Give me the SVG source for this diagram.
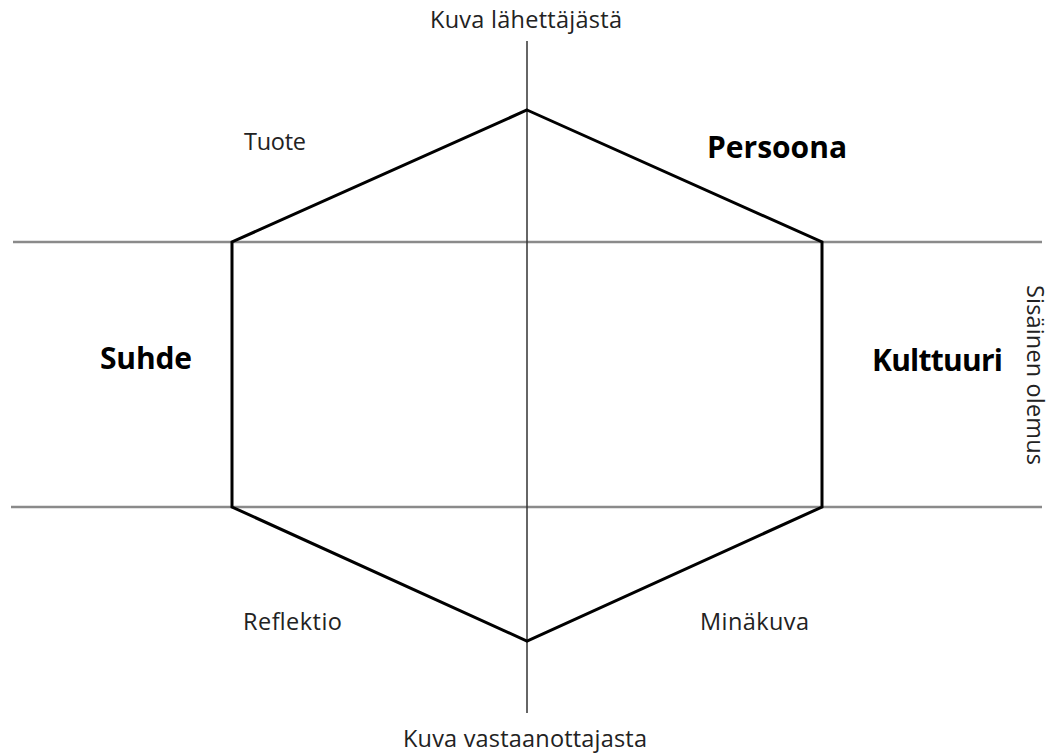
<svg xmlns="http://www.w3.org/2000/svg" width="1052" height="755" viewBox="0 0 1052 755">
<style>
.axis-h{stroke:#8a8a8a;stroke-width:2.5;fill:none}
.axis-v{stroke:#333;stroke-width:1.5;fill:none}
.hex{stroke:#000;stroke-width:3;fill:none;stroke-linejoin:miter}
.lbl{font-family:"Open Sans","Noto Sans","Liberation Sans",sans-serif;font-size:23.5px;fill:#222}
.big{font-family:"Open Sans","Noto Sans","Liberation Sans",sans-serif;font-size:30px;font-weight:bold;fill:#000}
</style>
<rect width="1052" height="755" fill="#fff"/>
<g id="connectors">
<line class="axis-h" x1="13" y1="242" x2="1042" y2="242"/>
<line class="axis-h" x1="11" y1="507" x2="1042" y2="507"/>
<line class="axis-v" x1="527" y1="41" x2="527" y2="713"/>
</g>
<g id="hexagon">
<polygon class="hex" points="527,110 822,242 822,507 527,641 232,507 232,242"/>
</g>
<g id="top"><text class="lbl" x="526" y="28" text-anchor="middle" textLength="192">Kuva lähettäjästä</text></g>
<g id="bottom"><text class="lbl" x="525" y="747" text-anchor="middle" textLength="244">Kuva vastaanottajasta</text></g>
<g id="tuote"><text class="lbl" x="244" y="150" textLength="62">Tuote</text></g>
<g id="persoona"><text class="big" x="707" y="158" textLength="140">Persoona</text></g>
<g id="suhde"><text class="big" x="100" y="369" textLength="92">Suhde</text></g>
<g id="kulttuuri"><text class="big" x="872" y="371" textLength="131">Kulttuuri</text></g>
<g id="reflektio"><text class="lbl" x="243" y="630" textLength="99">Reflektio</text></g>
<g id="minakuva"><text class="lbl" x="700" y="630" textLength="109">Minäkuva</text></g>
<g id="sisainen"><text class="lbl" transform="translate(1027,375) rotate(90)" x="0" y="0" text-anchor="middle" textLength="180">Sisäinen olemus</text></g>
</svg>
